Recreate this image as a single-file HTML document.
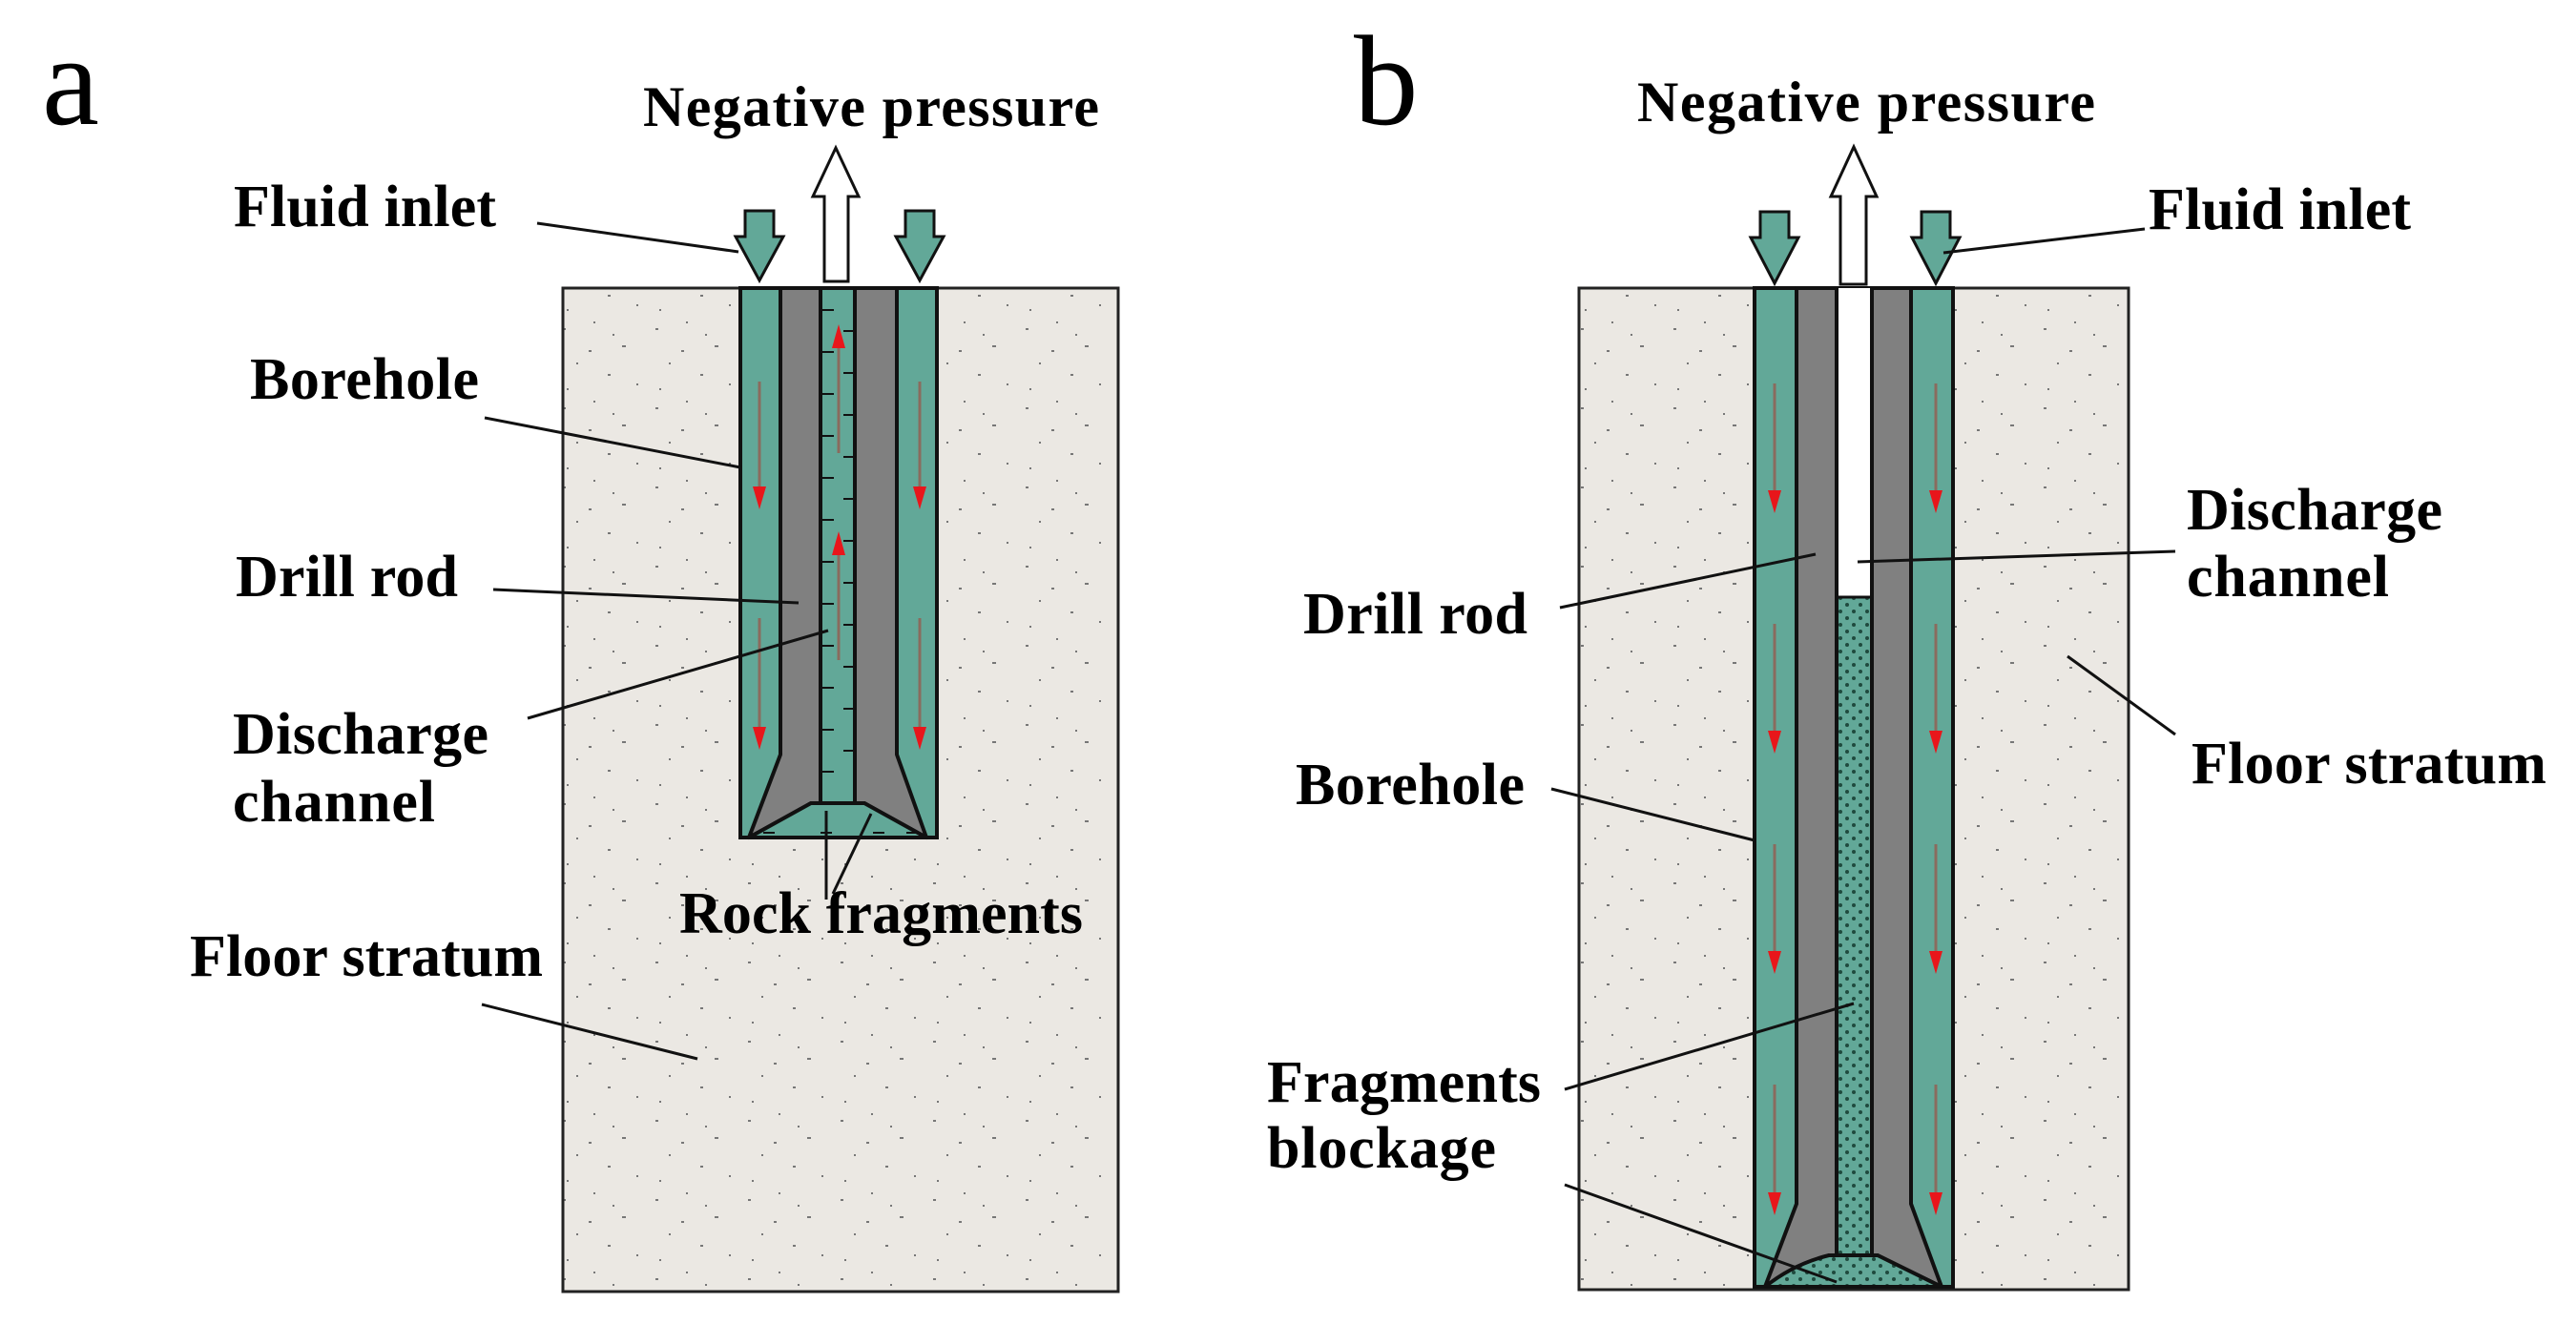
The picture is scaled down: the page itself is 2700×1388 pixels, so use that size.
<!DOCTYPE html>
<html><head><meta charset="utf-8"><style>
html,body{margin:0;padding:0;background:#fff;}
svg{display:block;}
text{font-family:"Liberation Serif",serif;font-weight:bold;fill:#000;}
</style></head><body>
<svg width="2700" height="1388" viewBox="0 0 2700 1388" xmlns="http://www.w3.org/2000/svg">
<defs>
<pattern id="sp" width="97" height="83" patternUnits="userSpaceOnUse">
<rect width="97" height="83" fill="#ebe8e3"/>
<g fill="#777"><rect x="8" y="12" width="3" height="2"/><rect x="40" y="5" width="2" height="2"/><rect x="70" y="30" width="4" height="2"/><rect x="22" y="48" width="2" height="2"/><rect x="55" y="60" width="3" height="2"/><rect x="85" y="70" width="2" height="2"/><rect x="12" y="75" width="2" height="2"/><rect x="60" y="18" width="2" height="2"/><rect x="35" y="35" width="3" height="2"/></g>
</pattern>
<pattern id="dots" width="14" height="14" patternUnits="userSpaceOnUse">
<rect width="14" height="14" fill="#62a898"/><circle cx="4" cy="4" r="2" fill="#1f4a3e"/><circle cx="11" cy="11" r="2" fill="#1f4a3e"/>
</pattern>
</defs>

<text x="44" y="130" style="font-weight:normal" font-size="135">a</text>
<text x="1419" y="130" style="font-weight:normal" font-size="135">b</text>
<text x="674" y="132" font-size="60" textLength="478">Negative pressure</text>
<text x="1716" y="127" font-size="60" textLength="480">Negative pressure</text>

<!-- Panel a -->
<rect x="590" y="302" width="582" height="1052" fill="url(#sp)" stroke="#222" stroke-width="3"/>
<rect x="776" y="302" width="206" height="576" fill="#62a898" stroke="#111" stroke-width="4"/>
<polygon points="818,302 860,302 860,842 850,842 785,878 818,791" fill="#808080" stroke="#111" stroke-width="4" stroke-linejoin="round"/>
<polygon points="940,302 896,302 896,842 906,842 971,878 940,791" fill="#808080" stroke="#111" stroke-width="4" stroke-linejoin="round"/>
<polygon points="850,842 906,842 971,878 785,878" fill="#62a898" stroke="#111" stroke-width="4"/>
<g stroke="#111" stroke-width="2">
<line x1="862" y1="325" x2="874" y2="325"/><line x1="862" y1="369" x2="874" y2="369"/><line x1="862" y1="413" x2="874" y2="413"/><line x1="862" y1="457" x2="874" y2="457"/><line x1="862" y1="501" x2="874" y2="501"/><line x1="862" y1="545" x2="874" y2="545"/><line x1="862" y1="589" x2="874" y2="589"/><line x1="862" y1="633" x2="874" y2="633"/><line x1="862" y1="677" x2="874" y2="677"/><line x1="862" y1="721" x2="874" y2="721"/><line x1="862" y1="765" x2="874" y2="765"/><line x1="862" y1="809" x2="874" y2="809"/>
<line x1="884" y1="347" x2="895" y2="347"/><line x1="884" y1="391" x2="895" y2="391"/><line x1="884" y1="435" x2="895" y2="435"/><line x1="884" y1="479" x2="895" y2="479"/><line x1="884" y1="523" x2="895" y2="523"/><line x1="884" y1="567" x2="895" y2="567"/><line x1="884" y1="611" x2="895" y2="611"/><line x1="884" y1="655" x2="895" y2="655"/><line x1="884" y1="699" x2="895" y2="699"/><line x1="884" y1="743" x2="895" y2="743"/><line x1="884" y1="787" x2="895" y2="787"/>
<line x1="800" y1="873" x2="812" y2="873"/><line x1="860" y1="873" x2="872" y2="873"/><line x1="915" y1="873" x2="927" y2="873"/><line x1="950" y1="873" x2="962" y2="873"/>
</g>
<g stroke="#8a6b5e" stroke-width="3">
<line x1="796" y1="400" x2="796" y2="520"/><line x1="796" y1="648" x2="796" y2="772"/>
<line x1="964" y1="400" x2="964" y2="520"/><line x1="964" y1="648" x2="964" y2="772"/>
<line x1="879" y1="355" x2="879" y2="475"/><line x1="879" y1="572" x2="879" y2="692"/>
</g>
<g fill="#e8161b">
<polygon points="789,510 803,510 796,534"/><polygon points="789,762 803,762 796,786"/>
<polygon points="957,510 971,510 964,534"/><polygon points="957,762 971,762 964,786"/>
<polygon points="872,365 886,365 879,340"/><polygon points="872,582 886,582 879,557"/>
</g>
<g fill="#62a898" stroke="#111" stroke-width="3" stroke-linejoin="miter">
<polygon points="781,221 811,221 811,248 821,248 796,294 771,248 781,248"/>
<polygon points="949,221 979,221 979,248 989,248 964,294 939,248 949,248"/>
</g>
<polygon points="864,295 889,295 889,206 900,206 876,155 852,206 864,206" fill="#fff" stroke="#111" stroke-width="3"/>
<g stroke="#111" stroke-width="3" fill="none">
<line x1="563" y1="234" x2="774" y2="264"/>
<line x1="508" y1="438" x2="776" y2="490"/>
<line x1="517" y1="618" x2="837" y2="632"/>
<line x1="553" y1="753" x2="868" y2="661"/>
<line x1="866" y1="850" x2="866" y2="943"/>
<line x1="913" y1="853" x2="873" y2="937"/>
<line x1="505" y1="1053" x2="731" y2="1110"/>
</g>
<text x="245" y="237" font-size="62" textLength="275">Fluid inlet</text>
<text x="262" y="418" font-size="62" textLength="240">Borehole</text>
<text x="247" y="625" font-size="62" textLength="233">Drill rod</text>
<text x="244" y="790" font-size="62" textLength="268">Discharge</text>
<text x="244" y="861" font-size="62" textLength="212">channel</text>
<text x="712" y="978" font-size="62" textLength="423">Rock fragments</text>
<text x="199" y="1023" font-size="62" textLength="370">Floor stratum</text>

<!-- Panel b -->
<rect x="1655" y="302" width="576" height="1050" fill="url(#sp)" stroke="#222" stroke-width="3"/>
<rect x="1839" y="302" width="208" height="1047" fill="#62a898" stroke="#111" stroke-width="4"/>
<polygon points="1883,302 1925,302 1925,1316 1917,1316 1850,1349 1883,1262" fill="#808080" stroke="#111" stroke-width="4" stroke-linejoin="round"/>
<polygon points="2003,302 1962,302 1962,1316 1968,1316 2035,1349 2003,1262" fill="#808080" stroke="#111" stroke-width="4" stroke-linejoin="round"/>
<rect x="1925" y="302" width="37" height="324" fill="#fff"/>
<rect x="1925" y="626" width="37" height="690" fill="url(#dots)"/>
<line x1="1925" y1="626" x2="1962" y2="626" stroke="#111" stroke-width="3"/>
<path d="M1917,1316 L1968,1316 L2035,1349 L1850,1349 Q1880,1325 1917,1316 Z" fill="url(#dots)" stroke="#111" stroke-width="4"/>
<line x1="1925" y1="302" x2="1925" y2="1316" stroke="#111" stroke-width="4"/>
<line x1="1962" y1="302" x2="1962" y2="1316" stroke="#111" stroke-width="4"/>
<g stroke="#8a6b5e" stroke-width="3">
<line x1="1860" y1="402" x2="1860" y2="525"/><line x1="1860" y1="654" x2="1860" y2="777"/><line x1="1860" y1="885" x2="1860" y2="1008"/><line x1="1860" y1="1137" x2="1860" y2="1260"/>
<line x1="2029" y1="402" x2="2029" y2="525"/><line x1="2029" y1="654" x2="2029" y2="777"/><line x1="2029" y1="885" x2="2029" y2="1008"/><line x1="2029" y1="1137" x2="2029" y2="1260"/>
</g>
<g fill="#e8161b">
<polygon points="1853,514 1867,514 1860,538"/><polygon points="1853,766 1867,766 1860,790"/><polygon points="1853,997 1867,997 1860,1021"/><polygon points="1853,1250 1867,1250 1860,1274"/>
<polygon points="2022,514 2036,514 2029,538"/><polygon points="2022,766 2036,766 2029,790"/><polygon points="2022,997 2036,997 2029,1021"/><polygon points="2022,1250 2036,1250 2029,1274"/>
</g>
<g fill="#62a898" stroke="#111" stroke-width="3">
<polygon points="1845,222 1875,222 1875,249 1885,249 1860,297 1835,249 1845,249"/>
<polygon points="2014,222 2044,222 2044,249 2054,249 2029,297 2004,249 2014,249"/>
</g>
<polygon points="1929,298 1956,298 1956,206 1967,206 1943,154 1919,206 1929,206" fill="#fff" stroke="#111" stroke-width="3"/>
<g stroke="#111" stroke-width="3" fill="none">
<line x1="2037" y1="265" x2="2248" y2="240"/>
<line x1="1947" y1="589" x2="2280" y2="578"/>
<line x1="2167" y1="688" x2="2280" y2="770"/>
<line x1="1903" y1="581" x2="1635" y2="637"/>
<line x1="1839" y1="881" x2="1626" y2="827"/>
<line x1="1943" y1="1052" x2="1640" y2="1142"/>
<line x1="1925" y1="1344" x2="1640" y2="1242"/>
</g>
<text x="2252" y="240" font-size="62" textLength="275">Fluid inlet</text>
<text x="2292" y="555" font-size="62" textLength="268">Discharge</text>
<text x="2292" y="625" font-size="62" textLength="212">channel</text>
<text x="1366" y="664" font-size="62" textLength="235">Drill rod</text>
<text x="2297" y="821" font-size="62" textLength="372">Floor stratum</text>
<text x="1358" y="843" font-size="62" textLength="240">Borehole</text>
<text x="1328" y="1155" font-size="62" textLength="287">Fragments</text>
<text x="1328" y="1224" font-size="62" textLength="240">blockage</text>
</svg>
</body></html>
